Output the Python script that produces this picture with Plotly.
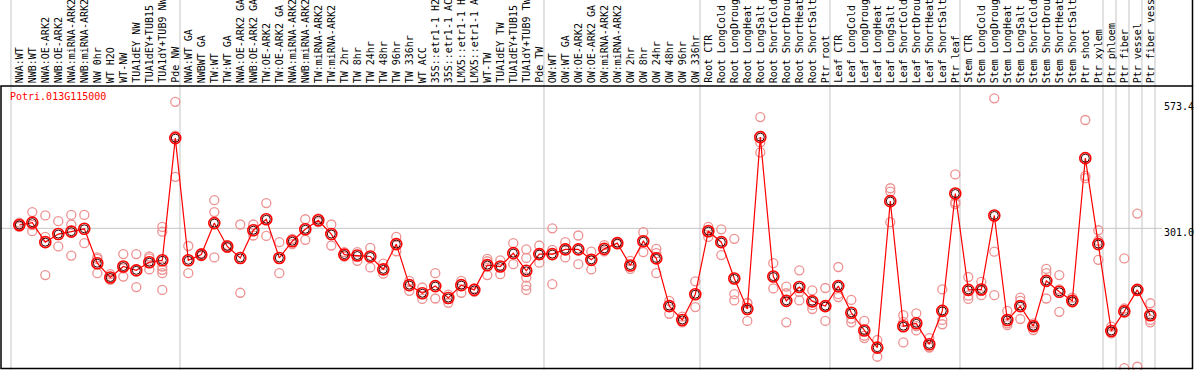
import plotly.graph_objects as go

W, H = 1194, 370

title_text = "Potri.013G115000"

categories = [
    # group 1
    "NWA:WT", "NWB:WT", "NWA:OE-ARK2", "NWB:OE-ARK2", "NWA:miRNA-ARK2", "NWB:miRNA-ARK2",
    "NW 0hr", "WT H2O", "WT-NW", "TUA1dEY NW", "TUA1dEY+TUB15", "TUA1dY+TUB9 NW", "Pde NW",
    # group 2
    "NWA:WT GA", "NWBWT GA", "TW:WT", "TW:WT GA", "NWA:OE-ARK2 GA", "NWB:OE-ARK2 GA",
    "TW:OE-ARK2", "TW:OE-ARK2 GA", "NWA:miRNA-ARK2", "NWB:miRNA-ARK2", "TW:miRNA-ARK2",
    "TW:miRNA-ARK2", "TW 2hr", "TW 8hr", "TW 24hr", "TW 48hr", "TW 96hr", "TW 336hr",
    "WT ACC", "35S::etr1-1 H2", "35S::etr1-1 AC", "LMX5::etr1-1 H", "LMX5::etr1-1 A",
    "WT-TW", "TUA1dEY TW", "TUA1dEY+TUB15", "TUA1dY+TUB9 TW", "Pde TW",
    # group 3
    "OW:WT", "OW:WT GA", "OW:OE-ARK2", "OW:OE-ARK2 GA", "OW:miRNA-ARK2", "OW:miRNA-ARK2",
    "OW 2hr", "OW 8hr", "OW 24hr", "OW 48hr", "OW 96hr", "OW 336hr",
    # group 4
    "Root CTR", "Root LongCold", "Root LongDroug", "Root LongHeat", "Root LongSalt",
    "Root ShortCold", "Root ShortDrou", "Root ShortHeat", "Root ShortSalt", "Ptr root",
    # group 5
    "Leaf CTR", "Leaf LongCold", "Leaf LongDroug", "Leaf LongHeat", "Leaf LongSalt",
    "Leaf ShortCold", "Leaf ShortDrou", "Leaf ShortHeat", "Leaf ShortSalt", "Ptr leaf",
    # group 6
    "Stem CTR", "Stem LongCold", "Stem LongDroug", "Stem LongHeat", "Stem LongSalt",
    "Stem ShortCold", "Stem ShortDrou", "Stem ShortHeat", "Stem ShortSalt", "Ptr shoot", "Ptr xylem",
    # single groups
    "Ptr phloem", "Ptr fiber", "Ptr vessel", "Ptr fiber vess",
]

group_starts = [0, 13, 41, 53, 63, 73, 84, 85, 86, 87]

means = [
    308, 313, 272, 289, 294, 300, 228, 198, 221, 213, 230, 234, 490,
    234, 246, 312, 263, 239, 297, 320, 239, 274, 299, 318, 289, 246, 244, 242, 215,
    268, 182, 165, 180, 155, 182, 172, 224, 221, 249, 212, 247,
    247, 257, 257, 235, 258, 270, 223, 274, 238, 138, 109, 163,
    295, 272, 196, 132, 492, 200, 149, 178, 148, 138,
    180, 124, 87, 51, 358, 96, 102, 58, 128, 374,
    172, 173, 328, 109, 138, 96, 191, 168, 149, 448, 268,
    86, 127, 172, 119,
]

replicates = [
    [313, 304, 308], [335, 295, 308], [328, 283, 203], [316, 263], [329, 309, 244],
    [329, 270], [240, 207, 237], [205, 196, 193], [247, 200, 217], [247, 178],
    [242, 238, 215], [304, 294, 221, 214, 207, 172], [566, 409, 495],
    [264, 207], [249, 243], [360, 335, 240], [266, 260], [309, 166], [309, 286],
    [354, 285], [272, 207], [279, 268], [320, 277], [322, 314], [309, 265],
    [251, 242], [251, 233], [260, 219], [227, 206], [283, 253], [191, 170],
    [177, 153], [207, 154], [162, 145], [191, 166], [175, 168], [237, 203, 232],
    [234, 205], [270, 226], [257, 239, 198, 181, 172], [265, 229],
    [301, 184, 256], [272, 240], [286, 226], [252, 215], [266, 253], [272, 268],
    [233, 216], [293, 251], [258, 249, 207], [149, 122], [116, 104], [190, 136],
    [304, 283, 298], [299, 245], [279, 163, 150], [144, 107, 145], [534, 481, 460],
    [228, 175], [179, 165, 104], [213, 168, 150], [171, 140, 132], [176, 137, 107],
    [220, 163, 157], [151, 112, 104], [107, 76, 71], [67, 32],
    [385, 378, 314], [119, 105, 62], [123, 96, 87], [71, 51, 52], [173, 109, 100],
    [414, 356, 352],
    [199, 160, 153], [189, 161, 170], [573.4, 252, 161], [128, 102, 98], [156, 149, 111],
    [102, 96, 88], [216, 207, 154], [203, 173, 126], [156, 146, 146], [528, 411, 406],
    [297, 275, 235],
    [95, 81, 84], [238, 133, 8], [332, 11, 172], [144, 109, 104],
]

tick_values = [573.4, 301.0, 0]
tick_labels = ["573.4", "301.0", "0"]

# ---- pixel layout helpers (styling only) ----
X0_PIX, X_STEP = 19.3, 13.0          # first category centre, spacing (px)
PX_PER_UNIT = 0.4773                 # vertical scale
ZERO_PIX = 372.0                     # pixel row of value 0

x_range = [-X0_PIX / X_STEP, (W - X0_PIX) / X_STEP]
y_range = [(ZERO_PIX - H) / PX_PER_UNIT, ZERO_PIX / PX_PER_UNIT]


def py(pix):
    return 1 - pix / H


def px(pix):
    return pix / W


mono = "DejaVu Sans Mono"

fig = go.Figure()

rep_x, rep_y = [], []
for i, reps in enumerate(replicates):
    for v in reps:
        rep_x.append(i)
        rep_y.append(v)

fig.add_trace(go.Scatter(
    x=rep_x, y=rep_y, mode="markers",
    marker=dict(symbol="circle-open", size=9, color="rgb(238,145,145)",
                line=dict(width=1.3, color="rgb(238,145,145)")),
    hoverinfo="skip", showlegend=False,
))

fig.add_trace(go.Scatter(
    x=list(range(len(means))), y=means, mode="lines+markers",
    line=dict(color="#ff0000", width=1.2),
    marker=dict(symbol="circle-open", size=11, color="#ff0000",
                line=dict(width=1.6, color="#ff0000")),
    showlegend=False,
))
# dark inner ring of the mean markers
fig.add_trace(go.Scatter(
    x=list(range(len(means))), y=means, mode="markers",
    marker=dict(symbol="circle-open", size=8, color="#400000",
                line=dict(width=1, color="#400000")),
    hoverinfo="skip", showlegend=False,
))

shapes = []
# group separators
for s in group_starts + [len(categories)]:
    xs = s - 0.64
    shapes.append(dict(type="line", xref="x", yref="paper", x0=xs, x1=xs, y0=0, y1=1,
                       line=dict(color="#c4c4c4", width=1), layer="below"))
# middle gridline
shapes.append(dict(type="line", xref="paper", yref="y", x0=0, x1=px(1162),
                   y0=tick_values[1], y1=tick_values[1],
                   line=dict(color="#c4c4c4", width=1), layer="below"))
# black frame: header rule, left/right/bottom edges
shapes.append(dict(type="rect", xref="paper", yref="paper",
                   x0=px(1), x1=px(1192.5), y0=py(368.5), y1=py(86),
                   line=dict(color="black", width=1.5), fillcolor="rgba(0,0,0,0)",
                   layer="above"))
shapes.append(dict(type="line", xref="paper", yref="paper",
                   x0=px(1192.5), x1=px(1192.5), y0=py(86), y1=1,
                   line=dict(color="black", width=1.5), layer="above"))

annotations = []
for i, lab in enumerate(categories):
    annotations.append(dict(
        x=i, xref="x", y=py(84), yref="paper", text=lab, showarrow=False,
        textangle=-90, xanchor="center", yanchor="bottom",
        font=dict(family=mono, size=10, color="black"), borderpad=0,
    ))

tick_shift = [-8, -4, 10]
for v, lab, sh in zip(tick_values, tick_labels, tick_shift):
    annotations.append(dict(
        x=px(1163), xref="paper", y=v, yref="y", yshift=sh, text=lab, showarrow=False,
        xanchor="left", yanchor="middle", font=dict(family=mono, size=10, color="black"),
        borderpad=0,
    ))

annotations.append(dict(
    x=px(9), xref="paper", y=py(96.7), yref="paper", text=title_text, showarrow=False,
    xanchor="left", yanchor="middle", font=dict(family=mono, size=10, color="#ff0000"),
    borderpad=0,
))

fig.update_layout(
    width=W, height=H,
    margin=dict(l=0, r=0, t=0, b=0),
    paper_bgcolor="white", plot_bgcolor="white",
    xaxis=dict(range=x_range, visible=False, domain=[0, 1], fixedrange=True),
    yaxis=dict(range=y_range, visible=False, domain=[0, 1], fixedrange=True),
    shapes=shapes, annotations=annotations, showlegend=False,
)

fig.write_html(
    "out.html",
    config={"displayModeBar": False},
    post_script="document.body.style.margin='0';document.body.style.overflow='hidden';",
)
